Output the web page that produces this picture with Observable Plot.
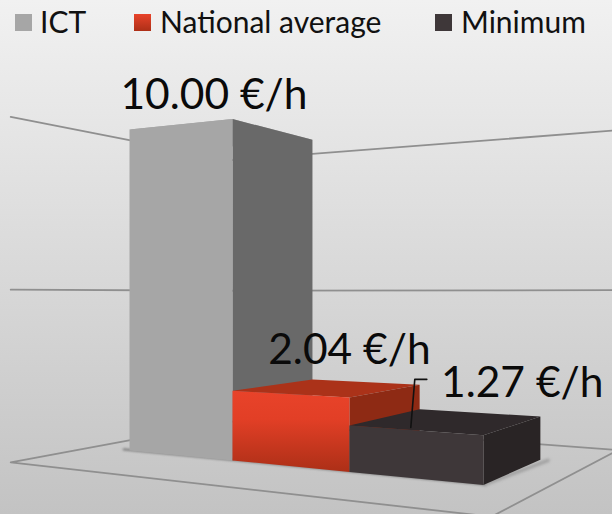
<!DOCTYPE html>
<html>
<head>
<meta charset="utf-8">
<script src="https://cdn.jsdelivr.net/npm/d3@7"></script>
<script src="https://cdn.jsdelivr.net/npm/@observablehq/plot@0.6"></script>
<style>
  html, body { margin: 0; padding: 0; }
  body { width: 612px; height: 514px; overflow: hidden; font-family: Lato, "Noto Sans", sans-serif;
         background: linear-gradient(#f1f1f1, #c3c3c3); }
  #legend { position: relative; height: 40px; width: 612px; }
  #legend .sw { position: absolute; top: 14px; width: 17px; height: 17px; }
  #legend .tx { position: absolute; top: 3px; font-size: 30px; line-height: 36px; color: #111; white-space: nowrap; }
  #chart svg { display: block; }
</style>
</head>
<body>
<div id="legend"></div>
<div id="chart"></div>
<script>
// ---- data -------------------------------------------------------------
const categories = ["ICT", "National average", "Minimum"];
const values = [10.0, 2.04, 1.27];
const valueLabels = ["10.00 €/h", "2.04 €/h", "1.27 €/h"];
const gridValues = [0, 5, 10];

// ---- styles -----------------------------------------------------------
const frontColors = ["#a6a6a6", "url(#redFront)", "#3e3739"];
const sideColors = ["#696969", "#8e2a14", "#292425"];
const topColors = ["#a6a6a6", "#ab3219", "#2f292b"];
const swatchCss = ["#a6a6a6", "linear-gradient(#e8432a,#ad2f17)", "#3e3739"];
const legendSwatchX = [15, 134, 435];
const legendTextX = [40, 160, 461];

// ---- perspective of the 3D chart: (t along categories, d in depth, z value)
function project(t, d, z) {
  const w = 1 - 0.0598 * t + 0.125 * d;
  return {
    x: (89.1 * t + 114.2 * d + 129) / w,
    y: (-17.5 * t + 36.7 * d + 450 - 32.1 * z) / w
  };
}
const floor = {t0: -0.38, t1: 3.39, d0: -0.75, d1: 1.65};

const poly = (corners) => corners.map(([t, d, z]) => project(t, d, z));
const face = (corners, fill) =>
  Plot.line(poly(corners), {x: "x", y: "y", fill, stroke: "none", curve: "linear"});
const edge = (corners, o = {}) =>
  Plot.line(poly(corners), {x: "x", y: "y", stroke: "#8f8f8f", strokeWidth: 1.8, ...o});

// ---- marks -------------------------------------------------------------
const marks = [];
marks.push(() => {
  const defs = d3.create("svg:defs");
  const g = defs.append("linearGradient").attr("id", "redFront")
    .attr("x1", 0).attr("y1", 0).attr("x2", 0).attr("y2", 1);
  g.append("stop").attr("offset", "0%").attr("stop-color", "#e8432a");
  g.append("stop").attr("offset", "35%").attr("stop-color", "#e23f26");
  g.append("stop").attr("offset", "100%").attr("stop-color", "#ac2f17");
  return defs.node();
});

// walls
for (const z of gridValues.slice(1)) {
  marks.push(edge([[floor.t0, floor.d0, z], [floor.t0, floor.d1, z], [floor.t1, floor.d1, z]]));
}
// floor
marks.push(edge([
  [floor.t0, floor.d1, 0], [floor.t0, floor.d0, 0], [floor.t1, floor.d0, 0],
  [floor.t1, floor.d1, 0], [floor.t0, floor.d1, 0]
]));
// contact shadow under the bars
marks.push(Plot.line(poly([[-0.08, 0.02, 0], [3.0, 0.02, 0]]),
  {x: "x", y: "y", stroke: "#808080", strokeWidth: 2.2, imageFilter: "blur(0.8px)"}));
marks.push(Plot.line(poly([[3.0, 0.02, 0], [3.06, 1.0, 0]]),
  {x: "x", y: "y", stroke: "#9a9a9a", strokeWidth: 3, imageFilter: "blur(1.5px)"}));

// bars, back to front and left to right
categories.forEach((c, i) => {
  const z = values[i], a = i, b = i + 1;
  marks.push(face([[a, 0, z], [a, 1, z], [b, 1, z], [b, 0, z]], topColors[i]));
  marks.push(face([[b, 0, 0], [b, 1, 0], [b, 1, z], [b, 0, z]], sideColors[i]));
  marks.push(face([[a, 0, 0], [b, 0, 0], [b, 0, z], [a, 0, z]], frontColors[i]));
});

// leader line of the last label
const la = project(2.42, 0.1, values[2]);
const lb = project(2.42, 0.1, 2.57);
marks.push(Plot.line([la, {x: lb.x + 4, y: lb.y}, {x: lb.x + 16, y: lb.y}],
  {x: "x", y: "y", stroke: "#111", strokeWidth: 1.6}));

// value labels
const labelAnchors = [project(0.82, 0, values[0]), project(2, 0, values[1]), project(3, 0.65, values[2])];
const labelDy = [-12, -33, -26];
valueLabels.forEach((txt, i) => {
  marks.push(Plot.text([txt], {
    x: () => labelAnchors[i].x,
    y: () => labelAnchors[i].y,
    text: d => d,
    dy: labelDy[i],
    dx: i === 0 ? 1 : 0,
    lineAnchor: "bottom",
    textAnchor: "middle",
    fontSize: 42.5,
    fontFamily: "Lato, 'Noto Sans', sans-serif",
    fill: "#0a0a0a"
  }));
});

const chart = Plot.plot({
  width: 612,
  height: 474,
  margin: 0,
  style: {background: "transparent"},
  x: {type: "linear", domain: [0, 612], range: [0, 612], axis: null},
  y: {type: "linear", domain: [40, 514], range: [0, 474], axis: null},
  marks
});
document.getElementById("chart").append(chart);

// legend
const legend = document.getElementById("legend");
categories.forEach((c, i) => {
  const s = document.createElement("div");
  s.className = "sw";
  s.style.left = legendSwatchX[i] + "px";
  s.style.background = swatchCss[i];
  const t = document.createElement("div");
  t.className = "tx";
  t.style.left = legendTextX[i] + "px";
  t.textContent = c;
  legend.append(s, t);
});
</script>
</body>
</html>
